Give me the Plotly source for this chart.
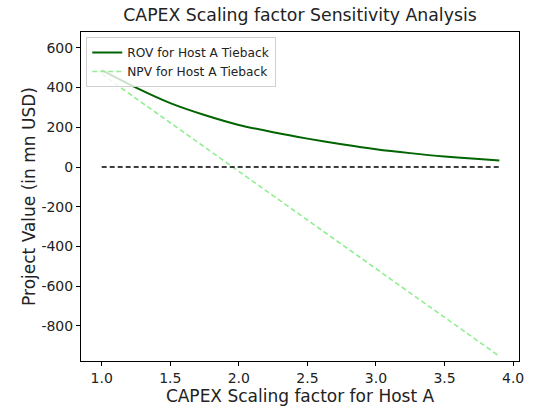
import plotly.graph_objects as go

# CAPEX scaling factors and project values (mn USD)
npv_x = [1.0, 3.9]
npv_vals = [468, -953]

rov_x = [1.0, 1.25, 1.5, 1.75, 2.0, 2.25, 2.5, 2.75, 3.0, 3.25, 3.5, 3.75, 3.9]
rov_vals = [488, 400, 322, 262, 212, 175, 143, 115, 90, 70, 53, 40, 33]

zero_x = [1.0, 3.9]
zero_vals = [0, 0]

x_ticks = [1.0, 1.5, 2.0, 2.5, 3.0, 3.5, 4.0]
y_ticks = [600, 400, 200, 0, -200, -400, -600, -800]

FONT = "DejaVu Sans"

fig = go.Figure()
fig.add_trace(go.Scatter(
    x=rov_x, y=rov_vals, mode="lines", name="ROV for Host A Tieback",
    line=dict(color="#006400", width=2, shape="spline", smoothing=0.8),
))
fig.add_trace(go.Scatter(
    x=npv_x, y=npv_vals, mode="lines", name="NPV for Host A Tieback",
    line=dict(color="#90EE90", width=1.6, dash="5px,3px"),
))
fig.add_trace(go.Scatter(
    x=zero_x, y=zero_vals, mode="lines", showlegend=False,
    line=dict(color="black", width=1.6, dash="5px,3px"),
))

axis_common = dict(
    showline=True, linecolor="black", linewidth=1, mirror=True,
    ticks="outside", ticklen=4, tickwidth=1, tickcolor="black",
    showgrid=False, zeroline=False,
    tickfont=dict(family=FONT, size=14, color="#222222"),
)

fig.update_layout(
    width=533, height=410,
    margin=dict(l=81, r=9, t=32, b=49),
    paper_bgcolor="white", plot_bgcolor="white",
    font=dict(family=FONT, color="#222222"),
    title=dict(text="CAPEX Scaling factor Sensitivity Analysis",
               x=0.5, xref="paper", xanchor="center",
               y=1, yref="container", yanchor="top", pad=dict(t=9),
               font=dict(family=FONT, size=17.3, color="#222222")),
    xaxis=dict(range=[0.849, 4.043], tickvals=x_ticks,
               ticktext=[f"{v:.1f}" for v in x_ticks],
               title=dict(text="CAPEX Scaling factor for Host A",
                          font=dict(family=FONT, size=17), standoff=2),
               **axis_common),
    yaxis=dict(range=[-977, 680], tickvals=y_ticks,
               ticktext=[str(v) for v in y_ticks],
               title=dict(text="Project Value (in mn USD)",
                          font=dict(family=FONT, size=17), standoff=1),
               **axis_common),
    legend=dict(x=0.012, y=0.985, xanchor="left", yanchor="top",
                bgcolor="rgba(255,255,255,0.8)", bordercolor="#d0d0d0",
                borderwidth=1, font=dict(family=FONT, size=12.2),
                itemwidth=30, tracegroupgap=0),
)

fig.write_html("out.html")
